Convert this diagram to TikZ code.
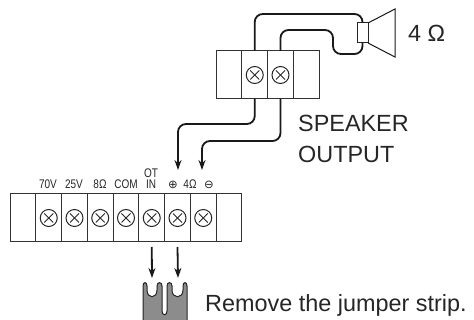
\documentclass[tikz,border=0pt]{standalone}
\usepackage{fontspec}
\setmainfont{Liberation Sans}
\newfontfamily\symfont{DejaVu Sans}
\usetikzlibrary{positioning,arrows.meta}

\begin{document}
\begin{tikzpicture}[
		x=1pt, y=-1pt,
		node distance = 0pt and 0pt,
		cell/.style = {draw=black!80, line width=1pt, rectangle, minimum height=48pt, minimum width=25.75pt, inner sep=0pt, outer sep=0pt},
		screw/.style = {draw=black!85, line width=1pt, circle, minimum size=17pt, inner sep=0pt,
			path picture={\draw [line width=1pt] ([shift={(-4.5pt,-4.5pt)}]path picture bounding box.center) -- ([shift={(4.5pt,4.5pt)}]path picture bounding box.center);
				\draw [line width=1pt] ([shift={(-4.5pt,4.5pt)}]path picture bounding box.center) -- ([shift={(4.5pt,-4.5pt)}]path picture bounding box.center);}},
		tag/.style = {inner sep=0pt, anchor=base, font=\fontsize{12.5}{12.5}\selectfont, xscale=0.8, transform shape, text=black!85},
		symtag/.style = {inner sep=0pt, font=\fontsize{11.5}{11.5}\selectfont, text=black!85},
		bigtext/.style = {inner sep=0pt, anchor=base west, font=\fontsize{23.4}{30}\selectfont, text=black!85},
		wire/.style = {draw=black!90, line width=1.8pt, rounded corners=8pt},
		arrow/.style = {draw=black!90, line width=1.8pt, rounded corners=8pt, -{Stealth[length=10pt,width=7pt]}}
	]
	\useasboundingbox (0,0) rectangle (474,320);

	% Speaker terminals
	\node [cell] at (229,75) (spka) {};
	\node [cell, right=of spka] (spkb) {};
	\node [cell, right=of spkb] (spkc) {};
	\node [cell, right=of spkc] (spkd) {};
	\node [screw] at (spkb.center) (screwb) {};
	\node [screw] at (spkc.center) (screwc) {};

	% Amplifier terminals
	\node [cell] at (23,218) (amp) {};
	\node [cell, right=of amp] (seventy) {};
	\node [cell, right=of seventy] (twentyfive) {};
	\node [cell, right=of twentyfive] (eight) {};
	\node [cell, right=of eight] (com) {};
	\node [cell, right=of com] (otin) {};
	\node [cell, right=of otin] (plus) {};
	\node [cell, right=of plus] (minus) {};
	\node [cell, right=of minus] (last) {};
	\node [screw] at (seventy.center) (screwa) {};
	\node [screw] at (twentyfive.center) (screwd) {};
	\node [screw] at (eight.center) (screwe) {};
	\node [screw] at (com.center) (screwf) {};
	\node [screw] at (otin.center) (screwg) {};
	\node [screw] at (plus.center) (screwh) {};
	\node [screw] at (minus.center) (screwi) {};

	% Speaker
	\node [draw=black!85, line width=1pt, minimum width=11pt, minimum height=20pt, inner sep=0pt, outer sep=0pt] at (362.5,33) (magnet) {};
	\draw [draw=black!90, line width=1pt] (magnet.north east) -- (395,9) -- (395,57) -- (magnet.south east);

	% Labels
	\node [tag] at (48,189) (lseventy) {70V};
	\node [tag] at (74,189) (ltwentyfive) {25V};
	\node [tag] at (100,189) (leight) {8Ω};
	\node [tag] at (126,189) (lcom) {COM};
	\node [tag] at (151,189) (lin) {IN};
	\node [tag] at (151,177.5) (lot) {OT};
	\node [symtag] at (173,184.5) (lplus) {\symfont ⊕};
	\node [tag] at (190,189) (lfour) {4Ω};
	\node [symtag] at (209,184.5) (lminus) {\symfont ⊖};
	\node [bigtext] at (408,42) (lohm) {4 Ω};
	\node [bigtext] at (298,132) (lspeaker) {SPEAKER};
	\node [bigtext] at (298,163) (loutput) {OUTPUT};
	\node [bigtext] at (205,312) (lremove) {Remove the jumper strip.};

	% Arrow ends
	\coordinate (tipplus) at (178,170);
	\coordinate (tipminus) at (202,170);
	\coordinate (tipa) at (152,278);
	\coordinate (tipb) at (178,278);

	% Lines
	\draw [wire] (spkb.north) |- ([yshift=9pt]magnet.north) -- (magnet.north);
	\draw [wire] (spkc.north) -- (280.5,30) -- (333,30) -- (333,54) -- (362.5,54) -- (magnet.south);
	\draw [arrow] (spkb.south) -- (254.75,124) -- (178,124) -- (tipplus);
	\draw [arrow] (spkc.south) -- (280.5,141) -- (202,141) -- (tipminus);
	\draw [arrow, rounded corners=0pt] ([yshift=-5pt]otin.south) -- (tipa);
	\draw [arrow, rounded corners=0pt] ([yshift=-5pt]plus.south) -- (tipb);

	% Jumper strip
	\path [draw=black!85, fill=black!45, line width=1pt] (143,320) -- (143,286)
		.. controls (143,281.5) and (147,281.5) .. (147,286) -- (147,290)
		.. controls (147,299) and (157,299) .. (157,290) -- (157,286)
		.. controls (157,281.5) and (162,281.5) .. (162,286) -- (162,311)
		.. controls (162,316) and (167,316) .. (167,311) -- (167,286)
		.. controls (167,281.5) and (172,281.5) .. (172,286) -- (172,290)
		.. controls (172,299) and (183,299) .. (183,290) -- (183,286)
		.. controls (183,281.5) and (187,281.5) .. (187,286) -- (187,320);
\end{tikzpicture}
\end{document}
